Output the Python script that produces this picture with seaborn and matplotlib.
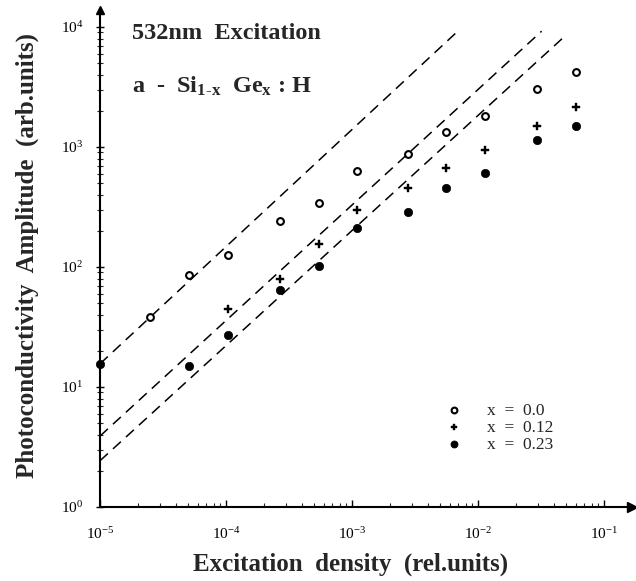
import matplotlib
matplotlib.use("Agg")
import matplotlib.pyplot as plt
import seaborn as sns
import numpy as np
import pandas as pd

# ---- data ----
x_open = [2.5e-5, 5.1e-5, 1.03e-4, 2.68e-4, 5.47e-4, 1.1e-3, 2.8e-3, 5.57e-3, 1.14e-2, 2.92e-2, 5.96e-2]
y_open = [38, 85, 126, 240, 341, 625, 871, 1327, 1815, 3020, 4190]

x_plus = [1.03e-4, 2.68e-4, 5.47e-4, 1.1e-3, 2.8e-3, 5.57e-3, 1.14e-2, 2.92e-2, 5.96e-2]
y_plus = [45, 79, 154, 298, 451, 666, 946, 1506, 2168]

x_fill = [5.1e-5, 1.03e-4, 2.68e-4, 5.47e-4, 1.1e-3, 2.8e-3, 5.57e-3, 1.14e-2, 2.92e-2, 5.96e-2]
y_fill = [14.9, 26.9, 64.5, 101, 210, 289, 455, 612, 1146, 1489]

x_anchor = [1e-5]
y_anchor = [15.6]

# dashed reference lines (start / end points)
line_upper_x = [1e-5, 7.19e-3]
line_upper_y = [15.6, 9590]
line_mid_x = [1e-5, 3.2e-2]
line_mid_y = [3.9, 9230]
line_low_x = [1e-5, 5.06e-2]
line_low_y = [2.43, 8670]

legend_labels = ["x  =  0.0", "x  =  0.12", "x  =  0.23"]

# ---- style ----
sns.set_theme(style="white")
plt.rcParams["font.family"] = ["Liberation Serif", "DejaVu Serif"]
plt.rcParams["mathtext.fontset"] = "custom"
plt.rcParams["mathtext.rm"] = "Liberation Serif"
plt.rcParams["mathtext.it"] = "Liberation Serif:italic"
plt.rcParams["mathtext.bf"] = "Liberation Serif:bold"

W, H = 636, 581
fig = plt.figure(figsize=(W / 100, H / 100), dpi=100)
ax = fig.add_axes([100 / W, (H - 507) / H, 532 / W, 497 / H])
ax.set_xscale("log")
ax.set_yscale("log")
ax.set_xlim(1e-5, 10 ** (-1 + 28 / 126))
ax.set_ylim(1, 10 ** (4 + 17 / 120))

dash = (7, 4.5)
for lx, ly in [(line_upper_x, line_upper_y), (line_mid_x, line_mid_y), (line_low_x, line_low_y)]:
    sns.lineplot(x=lx, y=ly, ax=ax, color="black", linewidth=1.1, errorbar=None)
    ax.lines[-1].set_dashes(dash)

h_open = sns.scatterplot(x=x_open, y=y_open, ax=ax, marker="o", s=24, color="black",
                         facecolor="white", edgecolor="black", linewidth=1.5,
                         zorder=5).collections[-1]
h_plus = sns.scatterplot(x=x_plus, y=y_plus, ax=ax, marker="P", s=26, color="black",
                         edgecolor="black", linewidth=0.3, zorder=5).collections[-1]
h_fill = sns.scatterplot(x=x_fill, y=y_fill, ax=ax, marker="o", s=36, color="black",
                         edgecolor="black", linewidth=0.5, zorder=5).collections[-1]
sns.scatterplot(x=x_anchor, y=y_anchor, ax=ax, marker="o", s=36, color="black",
                edgecolor="black", linewidth=0.5, zorder=6, clip_on=False)

leg = ax.legend([h_open, h_plus, h_fill], legend_labels, loc="upper left",
                bbox_to_anchor=(438 / W, 1 - 394 / H), bbox_transform=fig.transFigure,
                frameon=False, fontsize=12.5, handlelength=0.8, handletextpad=1.5,
                labelspacing=0.05, borderpad=0, markerscale=0.85)

# spines / ticks
for s in ["top", "right"]:
    ax.spines[s].set_visible(False)
for s in ["left", "bottom"]:
    ax.spines[s].set_linewidth(1.5)
    ax.spines[s].set_color("black")

ax.xaxis.set_minor_locator(matplotlib.ticker.LogLocator(base=10, subs=np.arange(2, 10), numticks=20))
ax.yaxis.set_minor_locator(matplotlib.ticker.LogLocator(base=10, subs=np.arange(2, 10), numticks=20))
ax.set_xticks([1e-5, 1e-4, 1e-3, 1e-2, 1e-1])
ax.set_yticks([1, 10, 100, 1000, 10000])
ax.tick_params(axis="x", which="major", direction="in", length=5, width=1, pad=14,
               labelsize=11, bottom=True, colors="black")
ax.tick_params(axis="x", which="minor", direction="in", length=3, width=0.8, bottom=True)
ax.tick_params(axis="y", which="major", direction="inout", length=6, width=1, pad=9,
               labelsize=11, left=True, colors="black")
ax.tick_params(axis="y", which="minor", direction="inout", length=4, width=0.8, left=True)

# arrow heads at axis ends
ax.plot(1, 0, marker=">", color="black", ms=7, transform=ax.transAxes, clip_on=False)
ax.plot(0, 1, marker="^", color="black", ms=6, transform=ax.transAxes, clip_on=False)

ax.set_xlabel("Excitation  density  (rel.units)", fontsize=18, fontweight="bold")
ax.set_ylabel("Photoconductivity  Amplitude  (arb.units)", fontsize=18, fontweight="bold")
ax.xaxis.set_label_coords(351 / W, 1 - 553 / H, transform=fig.transFigure)
ax.yaxis.set_label_coords(39 / W, 1 - 255 / H, transform=fig.transFigure)

fig.text(132 / W, 1 - 39 / H, "532nm  Excitation", fontsize=17.5, fontweight="bold",
         ha="left", va="baseline")
fig.text(132 / W, 1 - 93 / H, r"a  -  Si$_{\mathbf{1\text{-}x}}$  Ge$_{\mathbf{x}}$ : H",
         fontsize=17.5, fontweight="bold", ha="left", va="baseline")

fig.savefig("out.png", dpi=100, facecolor="white")
